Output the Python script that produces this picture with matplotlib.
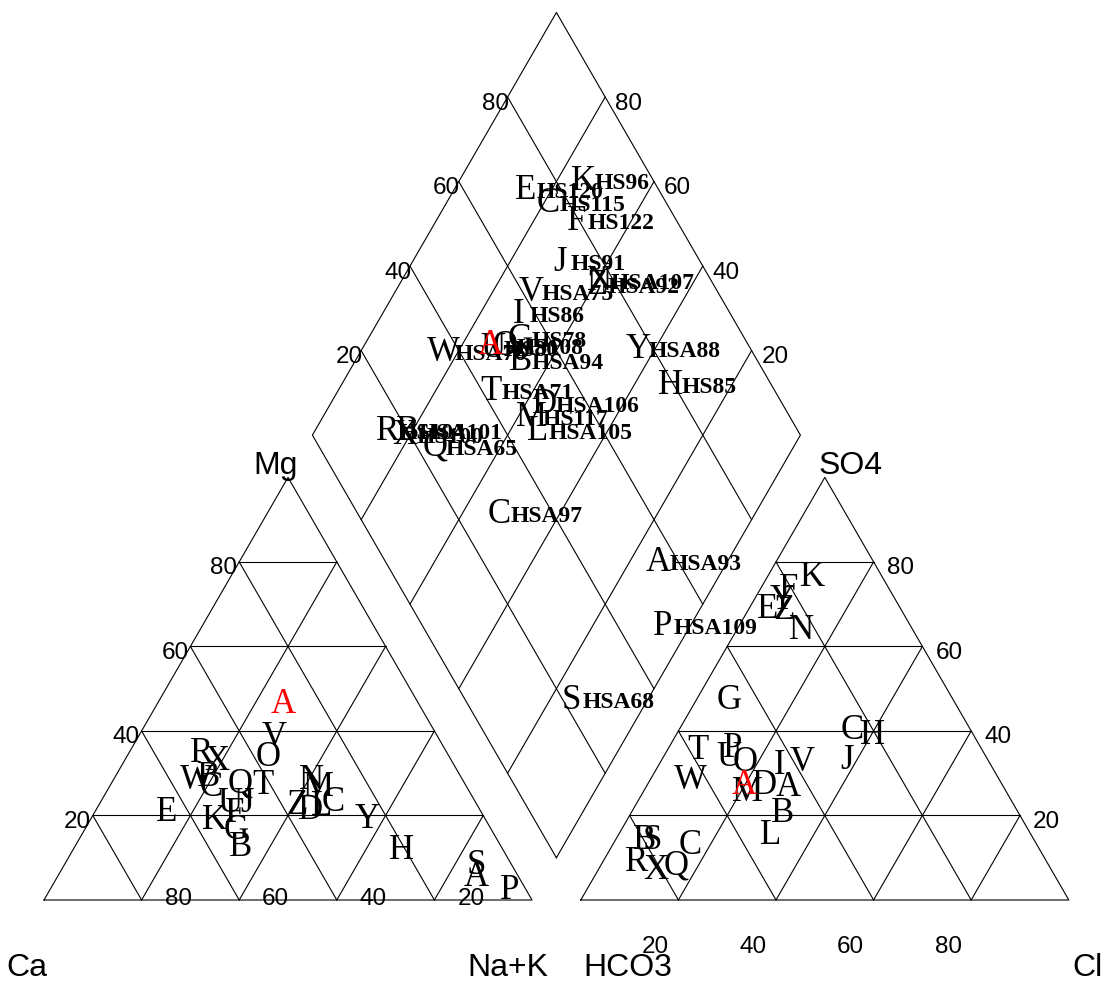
# piper diagram of the HS / HSA samples

import numpy as np
import matplotlib
matplotlib.use('Agg')
import matplotlib.pyplot as plt


# sample data (percent of meq)

letters = ['A', 'B', 'C', 'D', 'E', 'F', 'G', 'H', 'I', 'J', 'K', 'L', 'M', 'N', 'O',
           'P', 'Q', 'R', 'S', 'T', 'U', 'V', 'W', 'X', 'Y', 'Z', 'A', 'B', 'C']
names = ['HSA93', 'HSA94', 'HS115', 'HSA106', 'HS120', 'HS122', 'HS78', 'HS85', 'HS86', 'HS91',
         'HS96', 'HSA105', 'HS117', 'HSA107', 'HS108', 'HSA109', 'HSA65', 'HS104', 'HSA68', 'HSA71',
         'HS80', 'HSA75', 'HSA76', 'HS100', 'HSA88', 'HSA92', '', 'HSA101', 'HSA97']
colours = ['black'] * 26 + ['red', 'black', 'black']

mg = [6.3, 13.4, 27.5, 22.1, 21.7, 21.3, 17.3, 12.6, 21.5, 23.7, 19.7, 23.0, 27.6, 29.2, 34.7,
      3.1, 28.4, 35.5, 9.1, 28.0, 23.7, 39.4, 29.2, 33.8, 20.1, 23.3, 47.3, 30.0, 24.1]
nak = [85.5, 33.5, 20.5, 43.5, 14.3, 28.5, 30.8, 67.0, 27.5, 29.8, 25.2, 45.3, 42.4, 40.3, 28.6,
       93.9, 26.0, 14.6, 84.1, 30.9, 26.3, 27.4, 16.7, 18.6, 56.1, 40.1, 25.4, 18.7, 47.2]
so4 = [27.6, 21.3, 41.0, 28.0, 69.8, 74.5, 48.1, 39.8, 32.7, 33.9, 77.3, 16.2, 26.4, 64.7, 33.5,
       36.7, 9.1, 9.9, 15.0, 36.3, 34.7, 33.5, 29.2, 7.9, 71.8, 69.4, 28.0, 15.0, 13.8]
cl = [28.6, 30.6, 35.2, 23.6, 3.4, 5.4, 6.3, 39.9, 24.3, 37.7, 8.8, 30.8, 21.0, 12.8, 17.0,
      12.8, 15.0, 6.4, 7.2, 5.8, 13.0, 28.6, 7.9, 11.5, 5.4, 7.0, 19.5, 5.5, 15.6]

tick_values = [20, 40, 60, 80]


# geometry (one triangle side = 1 unit, 488 px)

h = np.sqrt(3) / 2
gap = 0.1
px = 1 / 488
x_right = 1 + gap
bottom = np.array([1 + gap / 2, gap / 2 * np.sqrt(3)])
u = np.array([0.5, h])
v = np.array([-0.5, h])

mg_f = np.array(mg) / 100
nak_f = np.array(nak) / 100
so4_f = np.array(so4) / 100
cl_f = np.array(cl) / 100
hco3_f = 1 - so4_f - cl_f

cat_x = nak_f + mg_f / 2
cat_y = mg_f * h
an_x = x_right + cl_f + so4_f / 2
an_y = so4_f * h
dia = bottom + np.outer(1 - hco3_f, u) + np.outer(1 - nak_f, v)

sans = 'Liberation Sans'
serif = 'Liberation Serif'
lc = 'black'
lw = 0.8

fig = plt.figure(figsize = (11.03, 9.82), dpi = 100)
ax = fig.add_axes([0, 0, 1, 1])
ax.set_xlim(-44 * px, 1059 * px)
ax.set_ylim(-82 * px, 900 * px)
ax.axis('off')


# triangles with grid

for x0 in [0, x_right]:
    ax.plot([x0, x0 + 1, x0 + 0.5, x0], [0, 0, h, 0], color = lc, linewidth = lw)
    for t in tick_values:
        f = t / 100
        ax.plot([x0 + f / 2, x0 + 1 - f / 2], [f * h, f * h], color = lc, linewidth = lw)
        ax.plot([x0 + f, x0 + f + (1 - f) / 2], [0, (1 - f) * h], color = lc, linewidth = lw)
        ax.plot([x0 + f, x0 + f / 2], [0, f * h], color = lc, linewidth = lw)

# diamond with grid

corners = np.array([bottom, bottom + u, bottom + u + v, bottom + v, bottom])
ax.plot(corners[:, 0], corners[:, 1], color = lc, linewidth = lw)
for t in tick_values:
    f = t / 100
    p = np.array([bottom + f * u, bottom + f * u + v])
    ax.plot(p[:, 0], p[:, 1], color = lc, linewidth = lw)
    p = np.array([bottom + f * v, bottom + f * v + u])
    ax.plot(p[:, 0], p[:, 1], color = lc, linewidth = lw)


# scale labels

tk = dict(fontsize = 17.5, family = sans, va = 'center_baseline')
for t in tick_values:
    f = t / 100
    # left triangle, Mg side
    ax.text(f / 2 - 2 * px, f * h - 4 * px, str(t), ha = 'right', **tk)
    # left triangle, base
    ax.text(1 - f + 0.075, 0.008, str(t), ha = 'center', **tk)
    # right triangle, SO4 side
    ax.text(x_right + 1 - f / 2 + 13 * px, f * h - 4 * px, str(t), ha = 'left', **tk)
    # right triangle, under base
    ax.text(x_right + f - 0.047, -0.092, str(t), ha = 'center', **tk)
    # diamond, upper left side
    q = bottom + v + f * u
    ax.text(q[0] + 1.5 * px, q[1] - 4 * px, str(t), ha = 'right', **tk)
    # diamond, upper right side
    q = bottom + u + f * v
    ax.text(q[0] + 10 * px, q[1] - 4 * px, str(t), ha = 'left', **tk)

cn = dict(fontsize = 23, family = sans, va = 'center_baseline', ha = 'center')
ax.text(-0.036, -0.133, 'Ca', **cn)
ax.text(0.951, -0.133, 'Na+K', **cn)
ax.text(x_right + 0.096, -0.133, 'HCO3', **cn)
ax.text(x_right + 1.039, -0.133, 'Cl', **cn)
ax.text(0.5 - 12 * px, h + 15 * px, 'Mg', **cn)
ax.text(x_right + 0.5 + 26 * px, h + 15 * px, 'SO4', **cn)


# sample labels

lt = dict(fontsize = 25, family = serif, ha = 'center', va = 'center_baseline')
for i in range(len(letters)):
    ax.text(cat_x[i], cat_y[i], letters[i], color = colours[i], **lt)
    ax.text(an_x[i], an_y[i], letters[i], color = colours[i], **lt)
    ax.text(dia[i, 0], dia[i, 1], letters[i], color = colours[i], **lt)
    if names[i]:
        ax.text(dia[i, 0] + 11 * px, dia[i, 1] - 3.5 * px, names[i], fontsize = 17, family = serif,
                weight = 'bold', ha = 'left', va = 'center_baseline', color = 'black')

fig.savefig('out.png', dpi = 100)
